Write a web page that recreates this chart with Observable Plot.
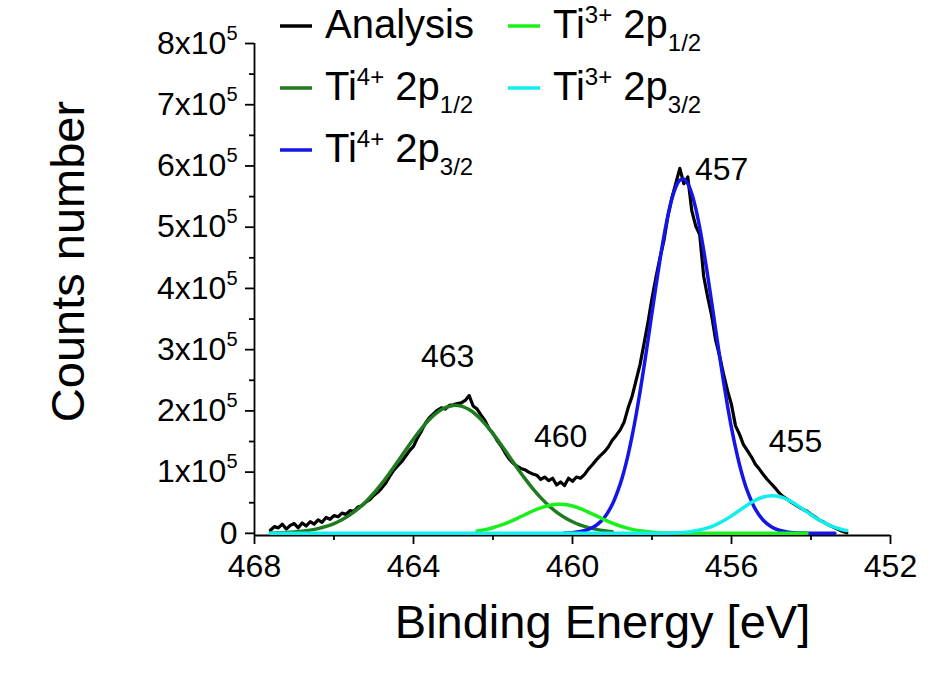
<!DOCTYPE html>
<html><head><meta charset="utf-8">
<script src="https://cdn.jsdelivr.net/npm/d3@7"></script>
<script src="https://cdn.jsdelivr.net/npm/@observablehq/plot@0.6"></script>
<style>
html,body{margin:0;padding:0;background:#fff;}
#chart{position:relative;width:930px;height:679px;}
svg{font-family:"Liberation Sans",Arial,sans-serif;}
</style></head><body><div id="chart"></div>
<script>
// ---- Data (counts in units of 1e5) ----
const analysisE = [467.6,467.5,467.4,467.3,467.2,467.1,467.0,466.9,466.8,466.7,466.6,466.5,466.4,466.3,466.2,466.1,466.0,465.9,465.8,465.7,465.6,465.5,465.4,465.3,465.2,465.1,465.0,464.9,464.8,464.7,464.6,464.5,464.4,464.3,464.2,464.1,464.0,463.9,463.8,463.7,463.6,463.5,463.4,463.3,463.2,463.1,463.0,462.9,462.8,462.7,462.6,462.5,462.4,462.3,462.2,462.1,462.0,461.9,461.8,461.7,461.6,461.5,461.4,461.3,461.2,461.1,461.0,460.9,460.8,460.7,460.6,460.5,460.4,460.3,460.2,460.1,460.0,459.9,459.8,459.7,459.6,459.5,459.4,459.3,459.2,459.1,459.0,458.9,458.8,458.7,458.6,458.5,458.4,458.3,458.2,458.1,458.0,457.9,457.8,457.7,457.6,457.5,457.4,457.3,457.2,457.1,457.0,456.9,456.8,456.7,456.6,456.5,456.4,456.3,456.2,456.1,456.0,455.9,455.8,455.7,455.6,455.5,455.4,455.3,455.2,455.1,455.0,454.9,454.8,454.7,454.6,454.5,454.4,454.3,454.2,454.1,454.0,453.9,453.8,453.7,453.6,453.5,453.4,453.3,453.2,453.1];
const analysisCounts = [0.05,0.11,0.09,0.15,0.07,0.13,0.16,0.09,0.17,0.12,0.19,0.15,0.22,0.18,0.26,0.23,0.29,0.27,0.33,0.31,0.37,0.36,0.43,0.45,0.51,0.55,0.62,0.67,0.74,0.82,0.93,1.03,1.10,1.17,1.26,1.35,1.42,1.56,1.67,1.80,1.89,1.95,2.01,2.05,2.03,2.09,2.10,2.12,2.13,2.17,2.25,2.08,2.03,1.93,1.84,1.71,1.63,1.52,1.43,1.32,1.22,1.15,1.10,1.06,1.04,1.00,0.97,0.95,0.88,0.92,0.86,0.90,0.79,0.84,0.78,0.90,0.85,0.92,0.90,0.96,1.05,1.12,1.20,1.27,1.33,1.41,1.52,1.60,1.69,1.82,2.05,2.24,2.50,2.76,3.10,3.45,3.84,4.18,4.50,4.78,5.18,5.48,5.72,5.96,5.71,5.82,5.27,5.02,4.88,4.20,3.86,3.56,3.16,2.90,2.60,2.33,2.10,1.76,1.62,1.45,1.35,1.25,1.13,1.05,0.96,0.88,0.81,0.74,0.66,0.60,0.56,0.51,0.47,0.43,0.39,0.36,0.31,0.27,0.22,0.19,0.15,0.12,0.09,0.06,0.03,0.01];

const ti4p12E = [467.6,467.4,467.2,467.0,466.8,466.6,466.4,466.2,466.0,465.8,465.6,465.4,465.2,465.0,464.8,464.6,464.4,464.2,464.0,463.8,463.6,463.4,463.2,463.0,462.8,462.6,462.4,462.2,462.0,461.8,461.6,461.4,461.2,461.0,460.8,460.6,460.4,460.2,460.0,459.8,459.6,459.4,459.2,459.0];
const ti4p12Counts = [0.005,0.009,0.014,0.023,0.035,0.053,0.078,0.113,0.160,0.222,0.301,0.399,0.517,0.655,0.812,0.986,1.170,1.358,1.542,1.712,1.860,1.976,2.054,2.089,2.077,2.021,1.923,1.789,1.629,1.451,1.264,1.077,0.898,0.732,0.584,0.455,0.347,0.259,0.189,0.135,0.094,0.065,0.043,0.028];

const ti4p32E = [460.2,460.0,459.8,459.6,459.4,459.2,459.0,458.8,458.7,458.6,458.5,458.4,458.3,458.2,458.1,458.0,457.9,457.8,457.7,457.6,457.5,457.4,457.3,457.2,457.1,457.0,456.9,456.8,456.7,456.6,456.5,456.4,456.3,456.2,456.1,456.0,455.9,455.8,455.7,455.6,455.4,455.2,455.0,454.8,454.6,454.4,454.2,454.0,453.8,453.6,453.4];
const ti4p32Counts = [0.005,0.012,0.029,0.064,0.133,0.258,0.471,0.804,1.025,1.287,1.591,1.933,2.314,2.724,3.157,3.601,4.041,4.463,4.851,5.188,5.462,5.657,5.767,5.786,5.712,5.550,5.306,4.993,4.623,4.213,3.778,3.334,2.896,2.475,2.081,1.722,1.403,1.125,0.887,0.689,0.395,0.213,0.108,0.051,0.023,0.009,0.004,0.002,0.001,0,0];

const ti3p12E = [462.4,462.2,462.0,461.8,461.6,461.4,461.2,461.0,460.8,460.6,460.4,460.2,460.0,459.8,459.6,459.4,459.2,459.0,458.8,458.6,458.4,458.2,458.0,457.8,457.6,457.2,456.8,456.0,455.0,454.1];
const ti3p12Counts = [0.038,0.061,0.092,0.133,0.184,0.242,0.304,0.365,0.417,0.455,0.474,0.470,0.446,0.403,0.347,0.286,0.224,0.168,0.120,0.082,0.053,0.033,0.019,0.011,0.006,0.001,0,0,0,0];

const ti3p32E = [467.6,466.0,464.0,462.0,460.0,458.0,457.6,457.4,457.2,457.0,456.8,456.6,456.4,456.2,456.0,455.8,455.6,455.4,455.2,455.0,454.8,454.6,454.4,454.2,454.0,453.8,453.6,453.4,453.2,453.1];
const ti3p32Counts = [0,0,0,0,0,0.001,0.004,0.008,0.016,0.030,0.054,0.089,0.140,0.206,0.286,0.375,0.464,0.541,0.594,0.616,0.601,0.554,0.481,0.394,0.304,0.221,0.152,0.098,0.060,0.046];

const xTicks = [468,464,460,456,452];
const xMinorTicks = [466,462,458,454];
const yTicks = [0,100000,200000,300000,400000,500000,600000,700000,800000];
const yMinorTicks = [50000,150000,250000,350000,450000,550000,650000,750000];

const peakLabels = ["463","460","457","455"];
const peakLabelE = [463.14,460.30,456.25,454.39];
const peakLabelCounts = [2.88,1.57,5.94,1.49];

const seriesColors = ["#000000","#1e7b1e","#1515e6","#1af01a","#11eeee"];
const legendBase = ["Analysis","Ti","Ti","Ti","Ti"];
const legendSup = ["","4+","4+","3+","3+"];
const legendSub = ["","1/2","3/2","1/2","3/2"];

// ---- build tables ----
const rows = (E, C) => E.map((e, i) => ({e, c: C[i] * 1e5}));
const analysis = rows(analysisE, analysisCounts);
const ti4p12 = rows(ti4p12E, ti4p12Counts);
const ti4p32 = rows(ti4p32E, ti4p32Counts);
const ti3p12 = rows(ti3p12E, ti3p12Counts);
const ti3p32 = rows(ti3p32E, ti3p32Counts);
const peaks = peakLabels.map((t, i) => ({t, e: peakLabelE[i], c: peakLabelCounts[i] * 1e5}));

const font = '"Liberation Sans", Arial, sans-serif';
const plot = Plot.plot({
  width: 930, height: 679,
  marginLeft: 254, marginRight: 40, marginTop: 43, marginBottom: 144,
  style: {fontFamily: font, background: "white", color: "black"},
  x: {domain: [468, 452], label: null},
  y: {domain: [-3500, 800000], label: null},
  marks: [
    Plot.axisX({ticks: xTicks, tickSize: 9, tickPadding: 10, fontSize: 32, strokeWidth: 1.8, tickFormat: d => String(d), label: null}),
    Plot.axisX({ticks: xMinorTicks, tickSize: 5, strokeWidth: 1.8, text: null, label: null}),
    Plot.axisY({ticks: yTicks, tickSize: 9, tickPadding: 8, fontSize: 32, strokeWidth: 1.8, tickFormat: d => d === 0 ? "0" : `${d / 1e5}x10`, label: null}),
    Plot.axisY({ticks: yMinorTicks, tickSize: 5, strokeWidth: 1.8, text: null, label: null}),
    Plot.ruleX([468], {strokeWidth: 1.8}),
    Plot.ruleY([-3500], {strokeWidth: 1.8}),
    Plot.line(analysis, {x: "e", y: "c", stroke: seriesColors[0], strokeWidth: 3.2}),
    Plot.line(ti4p12, {x: "e", y: "c", stroke: seriesColors[1], strokeWidth: 3.5, curve: "catmull-rom"}),
    Plot.line(ti4p32, {x: "e", y: "c", stroke: seriesColors[2], strokeWidth: 3.5, curve: "catmull-rom"}),
    Plot.line(ti3p12, {x: "e", y: "c", stroke: seriesColors[3], strokeWidth: 3.5, curve: "catmull-rom"}),
    Plot.line(ti3p32, {x: "e", y: "c", stroke: seriesColors[4], strokeWidth: 3.5, curve: "catmull-rom"}),
    Plot.text(peaks, {x: "e", y: "c", text: "t", fontSize: 32, fill: "black"}),
    Plot.text(["Counts number"], {text: d => d, frameAnchor: "left", textAnchor: "middle", lineAnchor: "middle", rotate: -90, dx: -186, dy: -28, fontSize: 47, fill: "black"}),
    Plot.text(["Binding Energy [eV]"], {text: d => d, frameAnchor: "bottom", textAnchor: "middle", lineAnchor: "middle", dx: 30, dy: 87, fontSize: 47, fill: "black"})
  ]
});
document.getElementById("chart").appendChild(plot);

// superscript exponent on y tick labels
d3.select(plot).selectAll("text").each(function() {
  const t = this.textContent;
  if (/^\dx10$/.test(t)) {
    d3.select(this).append("tspan").attr("font-size", 20).attr("dy", -14).text("5");
  }
});

// legend inside the plot area
const legendX = [280, 280, 280, 508, 508];
const legendBaseline = [38, 100, 162, 38, 100];
const lg = d3.select(plot).append("g").attr("font-family", font).attr("fill", "black").attr("text-anchor", "start");
legendBase.forEach((name, i) => {
  const x0 = legendX[i], yb = legendBaseline[i];
  lg.append("line").attr("x1", x0).attr("x2", x0 + 32).attr("y1", yb - 12).attr("y2", yb - 12)
    .attr("stroke", seriesColors[i]).attr("stroke-width", 3.5);
  const t = lg.append("text").attr("x", x0 + 45).attr("y", yb).attr("font-size", 40).attr("text-anchor", "start");
  t.append("tspan").text(name);
  if (legendSup[i]) {
    t.append("tspan").attr("font-size", 24).attr("dy", -15).text(legendSup[i]);
    t.append("tspan").attr("font-size", 40).attr("dy", 15).text(" 2p");
    t.append("tspan").attr("font-size", 24).attr("dy", 13).text(legendSub[i]);
  }
});
</script></body></html>
